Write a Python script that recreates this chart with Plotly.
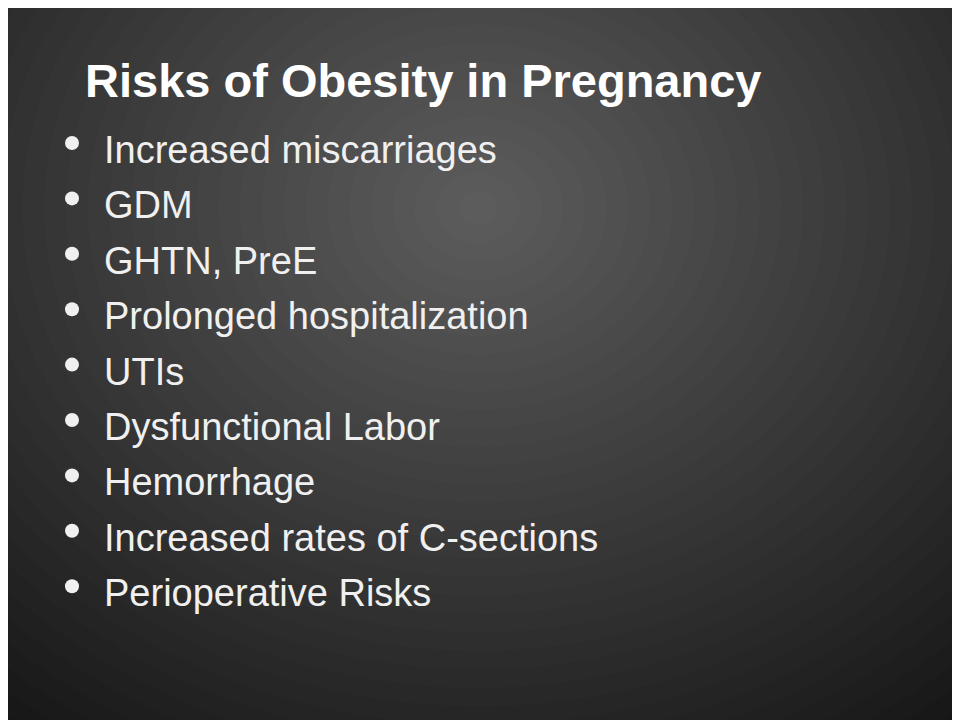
import plotly.graph_objects as go

title = "Risks of Obesity in Pregnancy"
items = ["Increased miscarriages", "GDM", "GHTN, PreE", "Prolonged hospitalization",
         "UTIs", "Dysfunctional Labor", "Hemorrhage",
         "Increased rates of C-sections", "Perioperative Risks"]

off = 8  # page body margin
fig = go.Figure()
shapes = []
n = 40
for i in range(n):
    t = i / (n - 1)
    r = 850 * (1 - t) + 20
    c = int(14 + (92 - 14) * t)
    shapes.append(dict(type="circle", xref="x", yref="y", x0=470 - r, x1=470 + r,
                       y0=200 - r * 0.85, y1=200 + r * 0.85,
                       fillcolor=f"rgb({c},{c},{c})", line=dict(width=0), layer="below"))
anns = [dict(x=83 - off, y=80 - off, xref="x", yref="y", text="<b>" + title + "</b>", showarrow=False,
             xanchor="left", yanchor="middle",
             font=dict(family="Liberation Sans, Arial", size=47, color="white"))]
y0, dy = 150 - off, 55.4
for i, s in enumerate(items):
    y = y0 + i * dy
    anns.append(dict(x=102 - off, y=y, xref="x", yref="y", text=s, showarrow=False,
                     xanchor="left", yanchor="middle",
                     font=dict(family="Liberation Sans, Arial", size=38, color="#f0f0f0")))
    shapes.append(dict(type="circle", xref="x", yref="y", x0=65 - off, x1=79 - off,
                       y0=y - 14, y1=y, fillcolor="#f0f0f0", line=dict(width=0)))
fig.update_layout(width=960, height=720, margin=dict(l=0, r=0, t=0, b=0),
                  paper_bgcolor="#141414", plot_bgcolor="#141414",
                  xaxis=dict(range=[0, 960], visible=False, fixedrange=True),
                  yaxis=dict(range=[720, 0], visible=False, fixedrange=True),
                  shapes=shapes, annotations=anns, showlegend=False)
fig.write_html("out.html")
